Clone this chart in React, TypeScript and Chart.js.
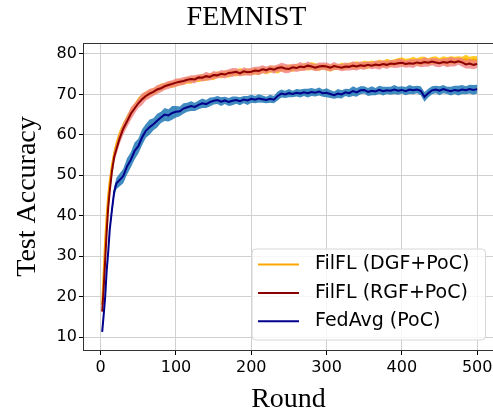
import { useEffect, useRef } from 'react';
import { Chart, registerables } from 'chart.js';

Chart.register(...registerables);

const rounds = [
  2, 4, 6, 8, 10, 12, 15, 18, 21, 25,
  30, 35, 40, 45, 50, 55, 60, 65, 70, 75, 80, 85, 90, 95, 100,
  105, 110, 115, 120, 125, 130, 135, 140, 145, 150, 155, 160, 165, 170, 175, 180, 185, 190, 195, 200,
  205, 210, 215, 220, 225, 230, 235, 240, 245, 250, 255, 260, 265, 270, 275, 280, 285, 290, 295, 300,
  305, 310, 315, 320, 325, 330, 335, 340, 345, 350, 355, 360, 365, 370, 375, 380, 385, 390, 395, 400,
  405, 410, 415, 420, 425, 430, 435, 440, 445, 450, 455, 460, 465, 470, 475, 480, 485, 490, 495, 500,
];

const dgfAcc = [
  18, 26, 34, 40, 45, 48.5, 52.5, 55.5, 57.8, 60,
  62, 63.9, 65.4, 66.9, 68.3, 69.2, 69.8, 70.4, 70.7, 71.2, 71.8, 72.0, 72.5, 72.4, 72.8,
  73.0, 73.1, 73.5, 73.4, 73.9, 73.8, 74.2, 74.0, 74.5, 74.4, 74.9, 74.7, 75.1, 75.0, 75.3, 75.2, 75.6, 75.4, 75.7, 75.5,
  75.8, 75.6, 76.0, 75.8, 76.2, 76.3, 76.1, 76.5, 76.3, 76.6, 76.4, 76.8, 76.6, 76.9, 76.7, 77.0, 76.8, 76.6, 76.9, 76.7,
  76.5, 76.8, 76.7, 77.0, 76.8, 77.2, 77.0, 77.3, 77.1, 77.4, 77.2, 77.6, 77.4, 77.7, 77.5, 77.8, 77.6, 77.9, 78.1, 78.2,
  77.9, 78.1, 78.3, 78.0, 78.2, 78.4, 78.1, 78.3, 78.5, 78.2, 78.4, 78.1, 78.5, 78.3, 78.6, 78.4, 78.7, 78.3, 78.6, 78.4,
];
const dgfStd = [
  0.4, 0.5, 0.7, 0.8, 0.8, 0.9, 0.9, 1.0, 1.0, 1.1,
  1.1, 1.0, 1.1, 0.9, 1.0, 0.9, 1.0, 0.8, 0.9, 0.8, 0.9, 0.8, 0.7, 0.8, 0.9,
  0.8, 0.7, 0.9, 0.8, 0.7, 0.8, 0.9, 0.7, 0.8, 0.9, 0.8, 0.7, 0.8, 0.9, 0.7, 0.8, 0.9, 0.8, 0.7, 0.8,
  0.9, 0.8, 0.7, 0.8, 0.9, 0.8, 1.0, 0.8, 0.7, 0.8, 0.9, 0.8, 0.7, 0.9, 0.8, 1.0, 0.9, 0.8, 0.7, 0.8,
  0.9, 0.8, 0.7, 0.9, 0.8, 0.7, 0.8, 0.9, 0.8, 1.0, 0.9, 0.8, 0.7, 0.9, 0.8, 1.0, 0.9, 0.8, 0.9, 1.0,
  0.9, 0.8, 1.0, 0.9, 1.1, 0.9, 0.8, 1.0, 0.9, 0.8, 1.0, 1.1, 0.9, 1.0, 0.8, 0.9, 1.1, 1.0, 0.9, 1.0,
];

const rgfAcc = [
  16.3, 22, 29, 36, 42, 46, 51, 54.5, 56.5, 59,
  61.5, 63.3, 65.2, 66.5, 67.8, 68.8, 69.6, 70.2, 70.6, 71.2, 71.5, 72, 72.3, 72.6, 72.9,
  73.1, 73.3, 73.6, 73.8, 73.7, 74.2, 74.1, 74.5, 74.3, 74.8, 74.7, 75.1, 74.9, 75.3, 75.4, 75.6, 75.2, 75.7, 75.5, 75.6,
  75.9, 75.8, 76.2, 76.0, 76.4, 76.1, 76.5, 76.7, 76.4, 76.3, 76.7, 76.5, 76.9, 76.7, 77.1, 76.9, 76.6, 76.9, 77.0, 76.9,
  76.6, 77.0, 76.8, 76.6, 76.9, 76.8, 77.1, 76.9, 77.2, 77.0, 77.3, 77.1, 77.4, 77.2, 77.5, 77.3, 77.6, 77.5, 77.7, 77.8,
  77.5, 77.7, 77.6, 77.9, 77.7, 78.0, 77.8, 78.1, 77.9, 77.7, 78.0, 77.8, 78.1, 77.9, 78.2, 77.9, 77.4, 77.6, 77.3, 77.5,
];
const rgfStd = [
  0.4, 0.6, 0.8, 0.9, 1.0, 1.1, 1.2, 1.3, 1.3, 1.4,
  1.5, 1.4, 1.6, 1.3, 1.2, 1.5, 1.1, 1.2, 1.0, 1.1, 1.0, 0.9, 1.0, 0.9, 1.0,
  0.9, 1.0, 0.8, 0.9, 1.0, 0.8, 0.9, 1.1, 0.9, 1.0, 0.8, 0.9, 1.0, 0.9, 1.1, 0.9, 0.8, 1.0, 0.9, 1.0,
  0.9, 1.1, 1.0, 0.9, 0.8, 1.0, 0.9, 1.1, 1.2, 1.0, 0.9, 1.0, 1.1, 0.9, 1.0, 0.8, 0.9, 1.0, 0.9, 1.0,
  0.9, 1.0, 0.8, 0.9, 1.0, 0.9, 1.1, 1.0, 0.9, 1.0, 0.8, 0.9, 1.0, 1.1, 0.9, 1.0, 0.9, 1.0, 1.1, 1.0,
  0.9, 1.0, 1.1, 0.9, 1.0, 1.2, 1.0, 0.9, 1.1, 1.0, 0.9, 1.1, 1.2, 1.0, 0.9, 1.1, 1.0, 1.2, 1.1, 1.0,
];

const fedAvgAcc = [
  11.3, 15.5, 20, 26.5, 31, 36.5, 41.5, 46, 48, 48.8,
  49.8, 52.2, 53.8, 56.0, 57.2, 59.4, 61.0, 61.9, 62.6, 63.5, 64.3, 65.0, 64.8, 65.4, 65.7,
  65.8, 66.5, 66.8, 67.1, 66.9, 67.4, 67.8, 67.6, 68.1, 68.4, 68.6, 68.2, 68.5, 68.1, 68.4, 68.6, 68.3, 68.7, 68.5, 68.9,
  68.7, 69.0, 68.8, 68.6, 68.9, 68.7, 69.6, 70.2, 70.0, 70.3, 70.1, 70.4, 70.2, 70.5, 70.3, 70.6, 70.4, 70.7, 70.3, 70.4,
  70.1, 69.8, 70.2, 70.0, 70.5, 70.3, 70.8, 70.5, 71.0, 71.1, 70.6, 70.9, 70.7, 71.1, 70.8, 71.0, 70.9, 71.2, 70.9, 71.1,
  70.8, 71.2, 71.0, 71.2, 70.9, 69.4, 70.3, 71.0, 71.2, 70.9, 71.3, 71.0, 70.8, 71.1, 70.9, 71.2, 71.0, 71.3, 71.1, 71.3,
];
const fedAvgStd = [
  0.4, 0.6, 0.7, 0.8, 0.9, 1.0, 1.2, 1.3, 1.4, 1.6,
  1.8, 2.0, 1.9, 2.1, 1.8, 2.0, 1.7, 1.9, 1.5, 1.7, 1.4, 1.6, 1.5, 1.7, 1.4,
  1.2, 1.3, 1.1, 1.2, 1.0, 1.1, 1.2, 1.0, 1.1, 0.9, 1.0, 1.1, 0.9, 1.0, 1.1, 0.9, 1.0, 0.9, 1.1, 1.0,
  0.9, 1.0, 0.9, 0.8, 1.0, 0.9, 1.1, 1.0, 0.9, 1.0, 0.8, 0.9, 1.0, 0.9, 1.1, 1.0, 0.9, 1.0, 0.9, 1.1,
  1.0, 0.9, 1.1, 1.0, 0.9, 1.0, 1.2, 1.1, 1.0, 0.9, 1.0, 1.1, 0.9, 1.0, 1.1, 0.9, 1.0, 1.1, 1.0, 0.9,
  1.0, 1.1, 1.0, 0.9, 1.1, 1.2, 1.1, 1.0, 0.9, 1.1, 1.0, 0.9, 1.1, 1.0, 1.2, 1.1, 1.0, 1.1, 1.2, 1.1,
];

const xTicks = [0, 100, 200, 300, 400, 500];
const yTicks = [10, 20, 30, 40, 50, 60, 70, 80];

const seriesLabels = ['FilFL (DGF+PoC)', 'FilFL (RGF+PoC)', 'FedAvg (PoC)'];
const lineColors = ['#FFA500', '#8B0000', '#00008B'];
const bandColors = ['rgba(255,195,0,0.85)', 'rgba(240,128,128,0.8)', 'rgba(31,119,180,0.85)'];

const pts = (ys: number[]) => ys.map((y, i) => ({ x: rounds[i], y }));
const band = (ys: number[], sd: number[], sign: number) =>
  ys.map((y, i) => ({ x: rounds[i], y: y + sign * sd[i] }));

const legendPlugin = {
  id: 'mplLegend',
  afterDraw(chart: any) {
    const ctx = chart.ctx as CanvasRenderingContext2D;
    const a = chart.chartArea;
    const w = 233.5;
    const h = 91;
    const right = a.right - 7.5;
    const bottom = a.bottom - 10;
    const left = right - w;
    const top = bottom - h;
    ctx.save();
    // top spine
    ctx.strokeStyle = '#333';
    ctx.lineWidth = 1;
    ctx.beginPath();
    ctx.moveTo(a.left, a.top + 0.5);
    ctx.lineTo(a.right, a.top + 0.5);
    ctx.stroke();
    // legend box
    const r = 4;
    ctx.beginPath();
    ctx.moveTo(left + r, top);
    ctx.lineTo(right - r, top);
    ctx.quadraticCurveTo(right, top, right, top + r);
    ctx.lineTo(right, bottom - r);
    ctx.quadraticCurveTo(right, bottom, right - r, bottom);
    ctx.lineTo(left + r, bottom);
    ctx.quadraticCurveTo(left, bottom, left, bottom - r);
    ctx.lineTo(left, top + r);
    ctx.quadraticCurveTo(left, top, left + r, top);
    ctx.closePath();
    ctx.fillStyle = 'rgba(255,255,255,0.8)';
    ctx.fill();
    ctx.strokeStyle = '#d6d6d6';
    ctx.stroke();
    ctx.font = '19px "DejaVu Sans"';
    ctx.textBaseline = 'middle';
    ctx.textAlign = 'left';
    seriesLabels.forEach((label, i) => {
      const y = top + 15.5 + i * 28.4;
      ctx.strokeStyle = lineColors[i];
      ctx.lineWidth = 2;
      ctx.beginPath();
      ctx.moveTo(left + 6, y);
      ctx.lineTo(left + 47, y);
      ctx.stroke();
      ctx.fillStyle = '#000';
      ctx.fillText(label, left + 63, y);
    });
    ctx.restore();
  },
};

export default function App() {
  const ref = useRef<HTMLCanvasElement | null>(null);
  useEffect(() => {
    if (!ref.current) return;
    const lineDs = (i: number, ys: number[]) => ({
      label: seriesLabels[i],
      data: pts(ys),
      borderColor: lineColors[i],
      borderWidth: 2,
      pointRadius: 0,
      fill: false,
      tension: 0,
    });
    const upperDs = (i: number, ys: number[], sd: number[]) => ({
      label: seriesLabels[i] + ' upper',
      data: band(ys, sd, 1),
      borderWidth: 0,
      borderColor: 'rgba(0,0,0,0)',
      backgroundColor: bandColors[i],
      pointRadius: 0,
      fill: '+1',
      tension: 0,
    });
    const lowerDs = (i: number, ys: number[], sd: number[]) => ({
      label: seriesLabels[i] + ' lower',
      data: band(ys, sd, -1),
      borderWidth: 0,
      borderColor: 'rgba(0,0,0,0)',
      pointRadius: 0,
      fill: false,
      tension: 0,
    });
    const chart = new Chart(ref.current, {
      type: 'line',
      data: {
        datasets: [
          lineDs(2, fedAvgAcc),
          upperDs(2, fedAvgAcc, fedAvgStd),
          lowerDs(2, fedAvgAcc, fedAvgStd),
          lineDs(1, rgfAcc),
          upperDs(1, rgfAcc, rgfStd),
          lowerDs(1, rgfAcc, rgfStd),
          lineDs(0, dgfAcc),
          upperDs(0, dgfAcc, dgfStd),
          lowerDs(0, dgfAcc, dgfStd),
        ] as any,
      },
      options: {
        animation: false,
        responsive: false,
        devicePixelRatio: 1,
        layout: { padding: 0 },
        plugins: {
          legend: { display: false },
          tooltip: { enabled: false },
          title: {
            display: true,
            text: 'FEMNIST',
            color: '#000',
            font: { family: '"Liberation Serif"', size: 28, weight: 'normal', lineHeight: 1 },
            padding: { top: 4, bottom: 11 },
          },
        },
        scales: {
          x: {
            type: 'linear',
            min: -22.2,
            max: 521,
            afterBuildTicks: (s: any) => {
              s.ticks = xTicks.map((v) => ({ value: v }));
            },
            afterFit: (s: any) => {
              s.paddingRight = 0;
              s.paddingLeft = 0;
            },
            grid: { color: '#d0d0d0', lineWidth: 1, tickLength: 5, tickColor: '#000' },
            border: { color: '#333', width: 1 },
            ticks: {
              color: '#000',
              padding: 3,
              maxRotation: 0,
              font: { family: '"DejaVu Sans"', size: 16 },
            },
            title: {
              display: true,
              text: 'Round',
              color: '#000',
              font: { family: '"Liberation Serif"', size: 28, weight: 'normal', lineHeight: 0.8 },
              padding: { top: 8.6, bottom: 0.8 },
            },
          },
          y: {
            type: 'linear',
            min: 6.8,
            max: 82.7,
            afterBuildTicks: (s: any) => {
              s.ticks = yTicks.map((v) => ({ value: v }));
            },
            grid: { color: '#d0d0d0', lineWidth: 1, tickLength: 5, tickColor: '#000' },
            border: { color: '#333', width: 1 },
            ticks: {
              color: '#000',
              padding: 2,
              font: { family: '"DejaVu Sans"', size: 16 },
            },
            title: {
              display: true,
              text: 'Test Accuracy',
              color: '#000',
              font: { family: '"Liberation Serif"', size: 28, weight: 'normal', lineHeight: 1 },
              padding: { top: 14, bottom: 12.6 },
            },
          },
        },
      } as any,
      plugins: [legendPlugin],
    });
    return () => chart.destroy();
  }, []);
  return (
    <canvas
      ref={ref}
      width={493}
      height={412}
      style={{ position: 'absolute', left: 0, top: 0, width: 493, height: 412 }}
    />
  );
}
